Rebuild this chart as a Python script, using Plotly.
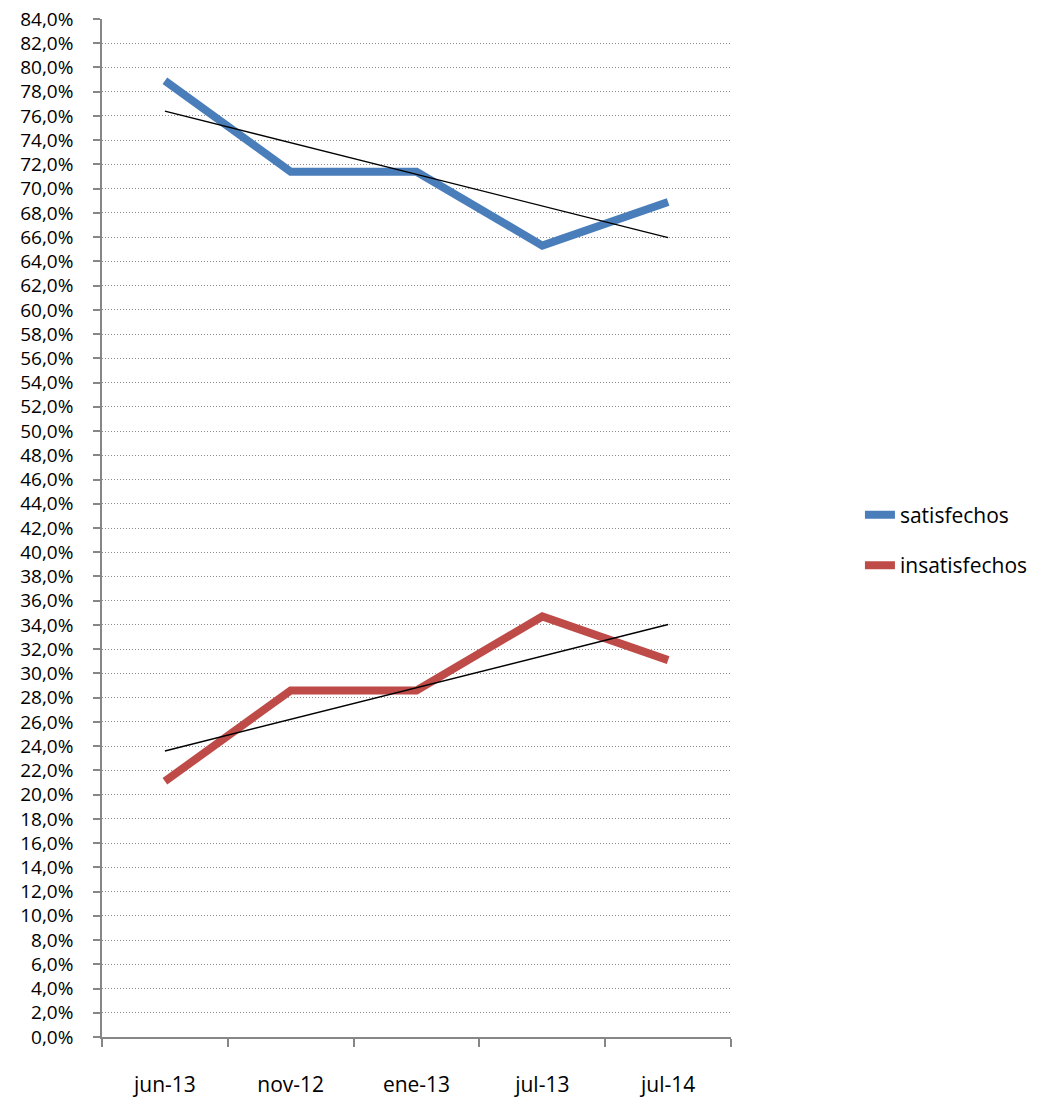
import numpy as np
import plotly.graph_objects as go

# periodos encuestados
categorias = ["jun-13", "nov-12", "ene-13", "jul-13", "jul-14"]
satisfechos = [78.9, 71.4, 71.4, 65.3, 68.9]
insatisfechos = [21.1, 28.6, 28.6, 34.7, 31.1]

AZUL = "#4a7ebb"
ROJO = "#be4b48"
FONT = "Open Sans"

fig = go.Figure()


def tendencia(vals):
    # linea de tendencia lineal (como en Excel)
    x = np.arange(1, len(vals) + 1)
    m, b = np.polyfit(x, vals, 1)
    return [(m * xi + b) / 100 for xi in x]


for nombre, vals, color in [("satisfechos", satisfechos, AZUL),
                            ("insatisfechos", insatisfechos, ROJO)]:
    fig.add_trace(go.Scatter(
        x=categorias, y=[v / 100 for v in vals], mode="lines", name=nombre,
        legendgroup=nombre,
        line=dict(color=color, width=8, shape="linear"),
    ))
    fig.add_trace(go.Scatter(
        x=categorias, y=tendencia(vals), mode="lines", showlegend=False,
        line=dict(color="black", width=1.4), hoverinfo="skip",
    ))

fig.update_layout(
    width=1048, height=1113,
    margin=dict(l=102, r=317, t=19, b=76),
    plot_bgcolor="white", paper_bgcolor="white",
    font=dict(family=FONT, size=20, color="black"),
    showlegend=True,
    legend=dict(x=1.205, y=0.488, xanchor="left", yanchor="middle",
                traceorder="grouped", tracegroupgap=20,
                font=dict(size=21)),
    xaxis=dict(
        type="category", range=[-0.5, 4.5], automargin=False,
        showline=True, linecolor="#868686", linewidth=1.5,
        showgrid=False, ticks="outside", tickson="boundaries",
        ticklen=8, tickcolor="#868686", tickwidth=1.5,
        tickfont=dict(size=21), ticklabelstandoff=28,
    ),
    yaxis=dict(
        range=[0, 0.84000001], tickvals=[i / 50 for i in range(43)],
        tickformat=".1%", automargin=False, ticklabeloverflow="allow",
        showline=True, linecolor="#868686", linewidth=1.5,
        showgrid=True, gridcolor="#8c8c8c", gridwidth=1, griddash="1px,2px",
        ticks="outside", ticklen=7, tickcolor="#868686", tickwidth=1.5,
        tickfont=dict(size=19), ticklabelstandoff=16, zeroline=False,
    ),
    separators=",.",
)

# sin margen en el body para que la figura ocupe toda la ventana
fig.write_html("out.html", config={"displayModeBar": False},
               post_script="document.body.style.margin='0';")
